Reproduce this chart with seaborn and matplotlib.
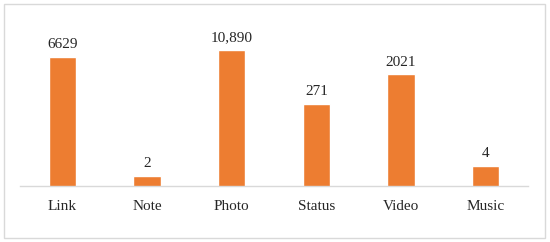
import matplotlib
matplotlib.use("Agg")
import matplotlib.pyplot as plt
import seaborn as sns
from matplotlib.patches import Rectangle

categories = ["Link", "Note", "Photo", "Status", "Video", "Music"]
counts = [6629, 2, 10890, 271, 2021, 4]
count_labels = ["6629", "2", "10,890", "271", "2021", "4"]

sns.set_style("white")
plt.rcParams["font.family"] = ["Liberation Serif", "DejaVu Serif"]

fig = plt.figure(figsize=(5.5, 2.42), dpi=100)
ax = fig.add_axes([20 / 550, 1 - 186 / 242, 508 / 550, 169 / 242])

sns.barplot(x=categories, y=counts, color="#ED7D31", width=0.32, saturation=1, ax=ax)
ax.set_yscale("log")
ax.set_ylim(1, 1e5)
ax.set_xlim(-0.5, len(categories) - 0.5)

ax.bar_label(ax.containers[0], labels=count_labels, padding=4, fontsize=11)

for side in ["top", "left", "right"]:
    ax.spines[side].set_visible(False)
ax.spines["bottom"].set_color("#d9d9d9")
ax.spines["bottom"].set_linewidth(1)
ax.set_yticks([])
ax.yaxis.set_minor_locator(matplotlib.ticker.NullLocator())
ax.tick_params(axis="x", length=0, labelsize=11, pad=10)
ax.set_xlabel("")
ax.set_ylabel("")

# light frame around the whole chart
fig.patches.append(Rectangle((4 / 550, 4 / 242), 541 / 550, 234 / 242,
                             transform=fig.transFigure, fill=False,
                             edgecolor="#d9d9d9", linewidth=1))

fig.savefig("out.png", dpi=100)
